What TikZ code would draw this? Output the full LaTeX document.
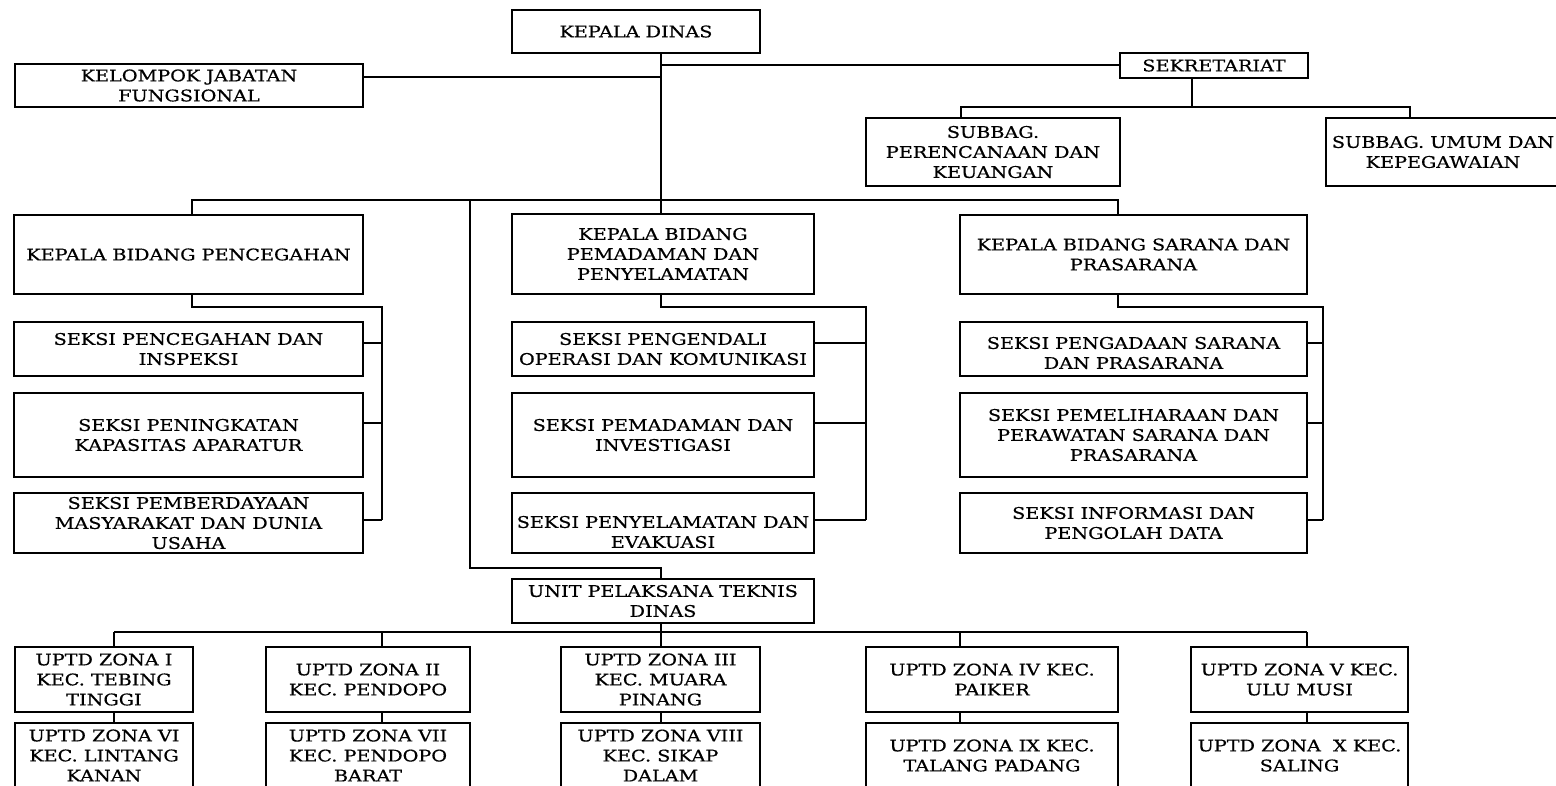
\documentclass[tikz,border=0pt]{standalone}
\usepackage{fontspec}
\setmainfont{DejaVu Serif}[FakeStretch=1.2,FakeBold=0.6]
\newcommand\fnt{\fontsize{16}{20}\selectfont}
\tikzset{
  orgbox/.style={draw, line width=1.5pt, inner sep=0pt, outer sep=0pt, align=center, font=\fnt},
  conn/.style={line width=1.3pt},
}
\newcommand\bx[7][]{\node[orgbox,minimum width={(#5-#3)*1pt},minimum height={(#6-#4)*1pt},#1] (#2) at ({(#3+#5)/2},{(#4+#6)/2}) {#7};}
\begin{document}
\begin{tikzpicture}[x=1pt,y=-1pt]
\useasboundingbox (0,0) rectangle (1556,785);
\clip (0,0) rectangle (1556,785);
% top
\bx{kd}{512}{10}{760}{53}{KEPALA DINAS}
\bx{kjf}{15}{64}{363}{107}{KELOMPOK JABATAN\\FUNGSIONAL}
\bx{sek}{1120}{53}{1308}{78}{SEKRETARIAT}
\bx{sp}{866}{118}{1120}{186}{SUBBAG.\\PERENCANAAN DAN\\KEUANGAN}
\bx{su}{1326}{118}{1560}{186}{SUBBAG. UMUM DAN\\KEPEGAWAIAN}
% left column
\bx{kbpc}{14}{215}{363}{294}{KEPALA BIDANG PENCEGAHAN}
\bx{s11}{14}{322}{363}{376}{SEKSI PENCEGAHAN DAN\\INSPEKSI}
\bx{s12}{14}{393}{363}{477}{SEKSI PENINGKATAN\\KAPASITAS APARATUR}
\bx{s13}{14}{493}{363}{553}{SEKSI PEMBERDAYAAN\\MASYARAKAT DAN DUNIA\\USAHA}
% center column
\bx{kbp}{512}{214}{814}{294}{KEPALA BIDANG\\PEMADAMAN DAN\\PENYELAMATAN}
\bx{s21}{512}{322}{814}{376}{SEKSI PENGENDALI\\OPERASI DAN KOMUNIKASI}
\bx{s22}{512}{393}{814}{477}{SEKSI PEMADAMAN DAN\\INVESTIGASI}
\bx[label={[font=\fnt,align=center,yshift=-9pt]center:SEKSI PENYELAMATAN DAN\\EVAKUASI}]{s23}{512}{493}{814}{553}{}
% right column
\bx{kbs}{960}{215}{1307}{294}{KEPALA BIDANG SARANA DAN\\PRASARANA}
\bx[label={[font=\fnt,align=center,yshift=-4pt]center:SEKSI PENGADAAN SARANA\\DAN PRASARANA}]{s31}{960}{322}{1307}{376}{}
\bx{s32}{960}{393}{1307}{477}{SEKSI PEMELIHARAAN DAN\\PERAWATAN SARANA DAN\\PRASARANA}
\bx{s33}{960}{493}{1307}{553}{SEKSI INFORMASI DAN\\PENGOLAH DATA}
% bottom
\bx{upt}{512}{579}{814}{623}{UNIT PELAKSANA TEKNIS\\DINAS}
\bx{z1}{15}{647}{193}{712}{UPTD ZONA I\\KEC. TEBING\\TINGGI}
\bx{z2}{266}{647}{470}{712}{UPTD ZONA II\\KEC. PENDOPO}
\bx{z3}{561}{647}{760}{712}{UPTD ZONA III\\KEC. MUARA\\PINANG}
\bx{z4}{866}{647}{1118}{712}{UPTD ZONA IV KEC.\\PAIKER}
\bx{z5}{1191}{647}{1408}{712}{UPTD ZONA V KEC.\\ULU MUSI}
\bx{z6}{15}{723}{193}{788}{UPTD ZONA VI\\KEC. LINTANG\\KANAN}
\bx{z7}{266}{723}{470}{788}{UPTD ZONA VII\\KEC. PENDOPO\\BARAT}
\bx{z8}{561}{723}{760}{788}{UPTD ZONA VIII\\KEC. SIKAP\\DALAM}
\bx{z9}{866}{723}{1118}{788}{UPTD ZONA IX KEC.\\TALANG PADANG}
\bx{z10}{1191}{723}{1408}{788}{UPTD ZONA\ \ X KEC.\\SALING}

% junction coordinates
\coordinate (kdb) at (661,53);
\coordinate (j1) at (192,200);
\coordinate (j2) at (470,200);
\coordinate (j3) at (1118,200);
\coordinate (sekb) at (1192,78);
\coordinate (sbus) at (1192,107);
\coordinate (sb1) at (961,107);
\coordinate (sb2) at (1410,107);
\coordinate (l1) at (192,307);
\coordinate (l2) at (382,307);
\coordinate (c1) at (661,307);
\coordinate (c2) at (866,307);
\coordinate (r1) at (1118,307);
\coordinate (r2) at (1323,307);
\coordinate (u0) at (470,568);
\coordinate (u1) at (661,568);
\coordinate (b1) at (114,632);
\coordinate (b2) at (382,632);
\coordinate (b3) at (661,632);
\coordinate (b4) at (960,632);
\coordinate (b5) at (1307,632);

% top connectors
\draw[conn] (kdb) -- (kdb |- kbp.north);
\draw[conn] ([yshift=8.5pt]kjf.east) coordinate (kjfe) -- (kjfe -| kdb);
\draw[conn] ([yshift=0.5pt]sek.west) coordinate (sekw) -- (sekw -| kdb);
\draw[conn] (sekb) -- (sbus);
\draw[conn] (sb1 |- sp.north) -- (sb1) -- (sb2) -- (sb2 |- su.north);
\draw[conn] (j1 |- kbpc.north) -- (j1) -- (j3) -- (j3 |- kbs.north);
% left column
\draw[conn] (l1 |- kbpc.south) -- (l1) -- (l2) -- (l2 |- 0,520);
\draw[conn] ([yshift=6pt]s11.east) coordinate (e11) -- (e11 -| l2);
\draw[conn] ([yshift=12pt]s12.east) coordinate (e12) -- (e12 -| l2);
\draw[conn] ([yshift=3pt]s13.east) coordinate (e13) -- (e13 -| l2);
% center column
\draw[conn] (c1 |- kbp.south) -- (c1) -- (c2) -- (c2 |- 0,520);
\draw[conn] ([yshift=6pt]s21.east) coordinate (e21) -- (e21 -| c2);
\draw[conn] ([yshift=12pt]s22.east) coordinate (e22) -- (e22 -| c2);
\draw[conn] ([yshift=3pt]s23.east) coordinate (e23) -- (e23 -| c2);
% right column
\draw[conn] (r1 |- kbs.south) -- (r1) -- (r2) -- (r2 |- 0,520);
\draw[conn] ([yshift=6pt]s31.east) coordinate (e31) -- (e31 -| r2);
\draw[conn] ([yshift=12pt]s32.east) coordinate (e32) -- (e32 -| r2);
\draw[conn] ([yshift=3pt]s33.east) coordinate (e33) -- (e33 -| r2);
% UPT
\draw[conn] (j2) -- (u0) -- (u1) -- (u1 |- upt.north);
\draw[conn] (b3 |- upt.south) -- (b3);
\draw[conn] (b1) -- (b5);
\foreach \i/\a/\b in {1/z1/z6,2/z2/z7,3/z3/z8,4/z4/z9,5/z5/z10}{
  \draw[conn] (b\i) -- (b\i |- \a.north);
  \draw[conn] (b\i |- \a.south) -- (b\i |- \b.north);
}
\end{tikzpicture}
\end{document}
